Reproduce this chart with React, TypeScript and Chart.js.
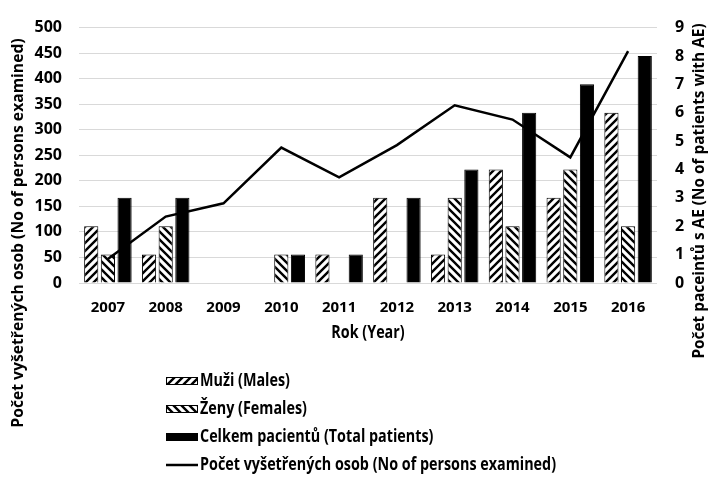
import React, { useEffect, useRef } from 'react';
import { Chart, registerables } from 'chart.js';

Chart.register(...registerables);

const years = ['2007', '2008', '2009', '2010', '2011', '2012', '2013', '2014', '2015', '2016'];
const males = [2, 1, 0, 0, 1, 3, 1, 4, 3, 6];
const females = [1, 2, 0, 1, 0, 0, 3, 2, 4, 2];
const totals = [3, 3, 0, 1, 1, 3, 4, 6, 7, 8];
const examined = [47, 130, 156, 265, 207, 270, 348, 320, 246, 454];

const leftTicksMax = 500;
const leftStep = 50;
const rightTicksMax = 9;
const rightStep = 1;

const labelMales = 'Muži (Males)';
const labelFemales = 'Ženy (Females)';
const labelTotal = 'Celkem pacientů (Total patients)';
const labelExamined = 'Počet vyšetřených osob (No of persons examined)';
const titleLeft = 'Počet vyšetřených osob (No of persons examined)';
const titleRight = 'Počet paceintů s AE (No of patients with AE)';
const titleX = 'Rok (Year)';

const OPEN = '"Open Sans", "DejaVu Sans", sans-serif';
const LEGEND_TEXT_WIDTH = 356; // width of the longest legend entry in the reference

function makeStripe(dir: 1 | -1): CanvasPattern | string {
  const s = 8;
  const c = document.createElement('canvas');
  c.width = s;
  c.height = s;
  const g = c.getContext('2d');
  if (!g) return '#fff';
  g.fillStyle = '#fff';
  g.fillRect(0, 0, s, s);
  g.strokeStyle = '#000';
  g.lineWidth = 2.4;
  g.beginPath();
  if (dir === 1) {
    g.moveTo(-2, s + 2); g.lineTo(s + 2, -2);
    g.moveTo(-2, 2); g.lineTo(2, -2);
    g.moveTo(s - 2, s + 2); g.lineTo(s + 2, s - 2);
  } else {
    g.moveTo(-2, -2); g.lineTo(s + 2, s + 2);
    g.moveTo(-2, s - 2); g.lineTo(2, s + 2);
    g.moveTo(s - 2, -2); g.lineTo(s + 2, 2);
  }
  g.stroke();
  const p = g.createPattern(c, 'repeat');
  return p || '#fff';
}

function narrowText(ctx: CanvasRenderingContext2D, text: string, x: number, y: number, align: 'left' | 'center', k: number) {
  ctx.save();
  ctx.translate(x, y);
  ctx.scale(k, 1);
  ctx.textAlign = align;
  ctx.fillText(text, 0, 0);
  ctx.restore();
}

export default function App() {
  const ref = useRef<HTMLCanvasElement | null>(null);

  useEffect(() => {
    const canvas = ref.current;
    if (!canvas) return;
    const pM = makeStripe(1);
    const pF = makeStripe(-1);

    const extras = {
      id: 'extras',
      afterDraw(chart: any) {
        const ctx = chart.ctx as CanvasRenderingContext2D;
        ctx.save();
        ctx.fillStyle = '#000';
        ctx.textAlign = 'center';
        ctx.textBaseline = 'middle';
        // left axis title
        ctx.font = 'bold 15.7px ' + OPEN;
        ctx.save();
        ctx.translate(19, 233);
        ctx.rotate(-Math.PI / 2);
        ctx.fillText(titleLeft, 0, 0);
        ctx.restore();
        // right axis title
        ctx.font = 'bold 15.4px ' + OPEN;
        ctx.save();
        ctx.translate(700, 191);
        ctx.rotate(-Math.PI / 2);
        ctx.fillText(titleRight, 0, 0);
        ctx.restore();
        // narrow bold text for x title and legend
        ctx.font = 'bold 17px ' + OPEN;
        const w = ctx.measureText(labelExamined).width || LEGEND_TEXT_WIDTH;
        const k = Math.min(1, LEGEND_TEXT_WIDTH / w);
        const ca = chart.chartArea;
        narrowText(ctx, titleX, (ca.left + ca.right) / 2, 333, 'center', k);
        const items = [
          { t: labelMales, fill: pM, kind: 'box' },
          { t: labelFemales, fill: pF, kind: 'box' },
          { t: labelTotal, fill: '#000', kind: 'box' },
          { t: labelExamined, fill: '#000', kind: 'line' },
        ];
        const rows = [381, 409, 437, 465];
        items.forEach((it, i) => {
          const y = rows[i];
          if (it.kind === 'box') {
            ctx.fillStyle = it.fill as any;
            ctx.fillRect(166, y - 4, 32, 8);
            ctx.strokeStyle = '#000';
            ctx.lineWidth = 1;
            ctx.strokeRect(166.5, y - 3.5, 31, 7);
          } else {
            ctx.strokeStyle = '#000';
            ctx.lineWidth = 2.5;
            ctx.beginPath();
            ctx.moveTo(166, y);
            ctx.lineTo(198, y);
            ctx.stroke();
          }
          ctx.fillStyle = '#000';
          narrowText(ctx, it.t, 200, y, 'left', k);
        });
        ctx.restore();
      },
    };

    const tickFontY = { family: OPEN, size: 16, weight: 'bold' as const };
    const tickFontX = { family: OPEN, size: 15, weight: 'bold' as const };

    const chart = new Chart(canvas, {
      type: 'bar',
      data: {
        labels: years,
        datasets: [
          {
            type: 'line',
            label: labelExamined,
            data: examined,
            yAxisID: 'y',
            borderColor: '#000',
            backgroundColor: '#000',
            borderWidth: 2.5,
            pointRadius: 0,
            tension: 0,
            order: 0,
          } as any,
          {
            label: labelMales,
            data: males,
            yAxisID: 'y1',
            backgroundColor: pM as any,
            borderColor: '#000',
            borderWidth: 1,
            order: 1,
          },
          {
            label: labelFemales,
            data: females,
            yAxisID: 'y1',
            backgroundColor: pF as any,
            borderColor: '#000',
            borderWidth: 1,
            order: 1,
          },
          {
            label: labelTotal,
            data: totals,
            yAxisID: 'y1',
            backgroundColor: '#000',
            borderColor: '#000',
            borderWidth: 1,
            order: 1,
          },
        ],
      },
      options: {
        animation: false,
        responsive: true,
        maintainAspectRatio: false,
        layout: { padding: { top: 15, bottom: 150, left: 0, right: 0 } },
        datasets: { bar: { categoryPercentage: 0.865, barPercentage: 0.85 } } as any,
        plugins: { legend: { display: false }, tooltip: { enabled: false } },
        scales: {
          x: {
            grid: { display: false },
            border: { display: false },
            ticks: { font: tickFontX, color: '#000', padding: 8, maxRotation: 0 },
            afterFit: (s: any) => { s.height = 45; },
          },
          y: {
            position: 'left',
            min: 0,
            max: leftTicksMax,
            ticks: { stepSize: leftStep, font: tickFontY, color: '#000', padding: 17 },
            grid: { color: '#d9d9d9', lineWidth: 1, drawTicks: false },
            border: { display: false },
            afterFit: (s: any) => { s.width = 79; },
          },
          y1: {
            position: 'right',
            min: 0,
            max: rightTicksMax,
            ticks: { stepSize: rightStep, font: tickFontY, color: '#000', padding: 18 },
            grid: { drawOnChartArea: false, drawTicks: false },
            border: { display: false },
            afterFit: (s: any) => { s.width = 52; },
          },
        },
      },
      plugins: [extras],
    });
    return () => chart.destroy();
  }, []);

  return (
    <div style={{ position: 'fixed', left: 0, top: 0, width: 709, height: 478, background: '#fff' }}>
      <canvas ref={ref} />
    </div>
  );
}
